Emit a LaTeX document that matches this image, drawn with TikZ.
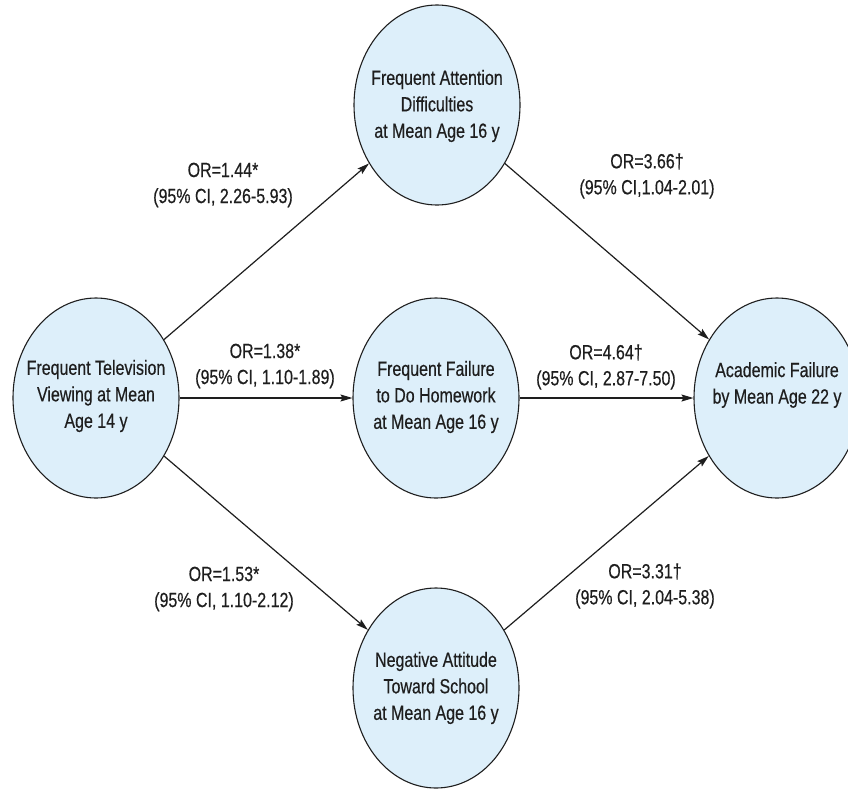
\documentclass[tikz,border=0pt]{standalone}
\usepackage{fontspec}
\setmainfont{Liberation Sans}[FakeStretch=0.78,FakeBold=0.4]
\usetikzlibrary{shapes.geometric,arrows.meta}
\definecolor{bubfill}{HTML}{DDEFFA}
\definecolor{ink}{HTML}{1E1E1E}
\tikzset{
  bub/.style={ellipse,draw=ink,line width=1.1pt,fill=bubfill,minimum width=166pt,minimum height=200pt,inner sep=0pt},
  txt/.style={align=center,text=ink,font=\fontsize{20.5}{26.5}\selectfont,inner sep=0pt},
  lab/.style={align=center,text=ink,font=\fontsize{20.5}{26}\selectfont,inner sep=0pt},
  arr/.style={draw=ink,line width=1.2pt,-{Stealth[length=12pt,width=7pt,inset=2pt]}}
}
\begin{document}
\begin{tikzpicture}[x=1pt,y=-1pt]
\useasboundingbox (0,0) rectangle (848,790);
\clip (0,0) rectangle (848,790);
\fill[white] (0,0) rectangle (848,790);
\node[bub] (tv) at (96,398) {};
\node[bub] (att) at (437,105) {};
\node[bub] (hw) at (436,398) {};
\node[bub] (neg) at (436,688) {};
\node[bub] (acad) at (777,398) {};
\node[txt] (tvt) at (96,396) {Frequent Television\\Viewing at Mean\\Age 14 y};
\node[txt] (attt) at (437,106) {Frequent Attention\\Difficulties\\at Mean Age 16 y};
\node[txt] (hwt) at (436,397) {Frequent Failure\\to Do Homework\\at Mean Age 16 y};
\node[txt] (negt) at (436,688) {Negative Attitude\\Toward School\\at Mean Age 16 y};
\node[txt] (acadt) at (777,385) {Academic Failure\\by Mean Age 22 y};
\draw[arr] (tv) -- (att);
\draw[arr] (att) -- (acad);
\draw[arr] (tv) -- (hw);
\draw[arr] (hw) -- (acad);
\draw[arr] (tv) -- (neg);
\draw[arr] (neg) -- (acad);
\node[lab] (l1) at (223,185) {OR=1.44*\\(95\% CI, 2.26-5.93)};
\node[lab] (l2) at (647,176) {OR=3.66†\\(95\% CI,1.04-2.01)};
\node[lab] (l3) at (265,366) {OR=1.38*\\(95\% CI, 1.10-1.89)};
\node[lab] (l4) at (606,367) {OR=4.64†\\(95\% CI, 2.87-7.50)};
\node[lab] (l5) at (224,589) {OR=1.53*\\(95\% CI, 1.10-2.12)};
\node[lab] (l6) at (645,586) {OR=3.31†\\(95\% CI, 2.04-5.38)};
\end{tikzpicture}
\end{document}
